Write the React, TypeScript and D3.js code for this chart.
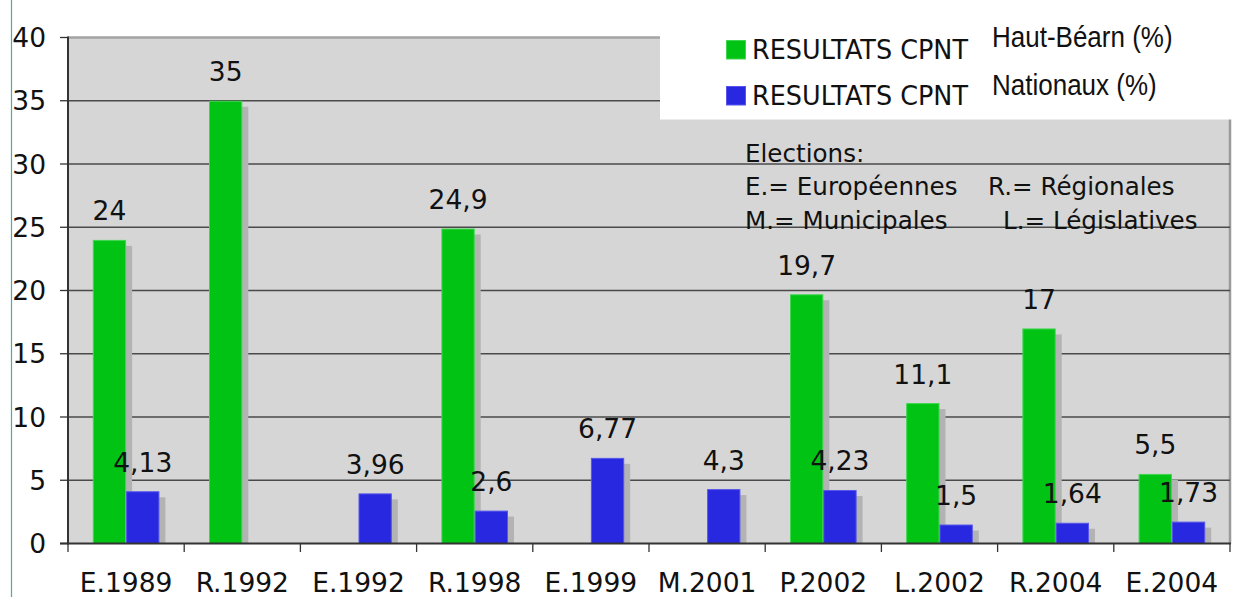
import { useEffect, useRef } from 'react';
import * as d3 from 'd3';

const categories = ['E.1989', 'R.1992', 'E.1992', 'R.1998', 'E.1999', 'M.2001', 'P.2002', 'L.2002', 'R.2004', 'E.2004'];
const hautBearn: (number | null)[] = [24, 35, null, 24.9, null, null, 19.7, 11.1, 17, 5.5];
const nationaux: (number | null)[] = [4.13, null, 3.96, 2.6, 6.77, 4.3, 4.23, 1.5, 1.64, 1.73];
const yTicks = [0, 5, 10, 15, 20, 25, 30, 35, 40];
const electionNotes = [
  ['Elections:', ''],
  ['E.= Européennes', 'R.= Régionales'],
  ['M.= Municipales', 'L.= Législatives'],
];

const GREEN = '#00c313';
const BLUE = '#2828e0';
const SANS = '"DejaVu Sans", Verdana, sans-serif';
const ARIAL = '"Liberation Sans", Arial, sans-serif';

export default function App() {
  const svgRef = useRef<SVGSVGElement>(null);

  useEffect(() => {
    if (!svgRef.current) return;
    const svg = d3.select(svgRef.current);
    svg.selectAll('*').remove();

    const W = 1258;
    const H = 597;
    const left = 68, right = 1230, top = 37.5, bottom = 543.5;

    svg.attr('width', W).attr('height', H).attr('viewBox', `0 0 ${W} ${H}`);

    svg.append('rect').attr('width', W).attr('height', H).attr('fill', '#fff');

    // thin teal edge line
    svg.append('line')
      .attr('x1', 11.5).attr('x2', 11.5).attr('y1', 0).attr('y2', H)
      .attr('stroke', '#3fb49a').attr('stroke-width', 1.2);

    const x = d3.scaleBand<string>().domain(categories).range([left, right]).padding(0);
    const y = d3.scaleLinear().domain([0, 40]).range([bottom, top]);
    const barW = 33.3;

    // plot background
    svg.append('rect')
      .attr('x', left).attr('y', top)
      .attr('width', right - left).attr('height', bottom - top)
      .attr('fill', '#d6d6d6');

    // top / right frame
    svg.append('line')
      .attr('x1', left).attr('x2', right + 1).attr('y1', top).attr('y2', top)
      .attr('stroke', '#a3a3a3').attr('stroke-width', 2.5);
    svg.append('line')
      .attr('x1', right).attr('x2', right).attr('y1', top).attr('y2', bottom)
      .attr('stroke', '#9a9a9a').attr('stroke-width', 2.5);

    // gridlines
    svg.append('g')
      .selectAll('line')
      .data(yTicks.filter(t => t > 0 && t < 40))
      .join('line')
      .attr('x1', left).attr('x2', right)
      .attr('y1', d => y(d)).attr('y2', d => y(d))
      .attr('stroke', '#4a4a4a').attr('stroke-width', 1.3);

    const defs = svg.append('defs');
    defs.append('clipPath').attr('id', 'plot-clip')
      .append('rect')
      .attr('x', left).attr('y', 0)
      .attr('width', right - left).attr('height', bottom);

    const series = [
      { values: hautBearn, color: GREEN, stroke: '#3fd650', offset: -barW },
      { values: nationaux, color: BLUE, stroke: '#5656ec', offset: 0 },
    ];

    const barsG = svg.append('g').attr('clip-path', 'url(#plot-clip)');

    // shadows
    series.forEach(s => {
      categories.forEach((c, i) => {
        const v = s.values[i];
        if (v == null) return;
        const cx = (x(c) ?? 0) + x.bandwidth() / 2 + s.offset;
        barsG.append('rect')
          .attr('x', cx + 6)
          .attr('y', y(v) + 6)
          .attr('width', barW)
          .attr('height', bottom - y(v))
          .attr('fill', '#b3b3b3');
      });
    });

    // bars
    series.forEach(s => {
      categories.forEach((c, i) => {
        const v = s.values[i];
        if (v == null) return;
        const cx = (x(c) ?? 0) + x.bandwidth() / 2 + s.offset;
        barsG.append('rect')
          .attr('x', cx + 0.5)
          .attr('y', y(v) + 0.5)
          .attr('width', barW - 1)
          .attr('height', bottom - y(v) - 0.5)
          .attr('fill', s.color)
          .attr('stroke', s.stroke)
          .attr('stroke-width', 1);
      });
    });

    // axes
    svg.append('line')
      .attr('x1', left).attr('x2', left).attr('y1', top - 1).attr('y2', bottom + 1)
      .attr('stroke', '#333').attr('stroke-width', 2);
    svg.append('line')
      .attr('x1', 60).attr('x2', right + 1).attr('y1', bottom).attr('y2', bottom)
      .attr('stroke', '#333').attr('stroke-width', 2);

    // y ticks & labels
    const yAxis = svg.append('g');
    yAxis.selectAll('line')
      .data(yTicks)
      .join('line')
      .attr('x1', 60).attr('x2', left)
      .attr('y1', d => y(d)).attr('y2', d => y(d))
      .attr('stroke', '#333').attr('stroke-width', 1.3);
    yAxis.selectAll('text')
      .data(yTicks)
      .join('text')
      .attr('x', 46)
      .attr('y', d => y(d))
      .attr('dy', '0.36em')
      .attr('text-anchor', 'end')
      .attr('font-family', SANS)
      .attr('font-size', 26.5)
      .attr('fill', '#111')
      .text(d => d);

    // x ticks at band boundaries
    const boundaries = categories.map(c => x(c) ?? 0).concat([right]);
    svg.append('g')
      .selectAll('line')
      .data(boundaries)
      .join('line')
      .attr('x1', d => d).attr('x2', d => d)
      .attr('y1', bottom).attr('y2', bottom + 8.5)
      .attr('stroke', '#333').attr('stroke-width', 1.3);

    svg.append('g')
      .selectAll('text')
      .data(categories)
      .join('text')
      .attr('x', d => (x(d) ?? 0) + x.bandwidth() / 2)
      .attr('y', 591.5)
      .attr('text-anchor', 'middle')
      .attr('font-family', SANS)
      .attr('font-size', 26.5)
      .attr('fill', '#111')
      .text(d => d);

    // value labels
    const fmt = (v: number) => String(v).replace('.', ',');
    series.forEach(s => {
      categories.forEach((c, i) => {
        const v = s.values[i];
        if (v == null) return;
        const cx = (x(c) ?? 0) + x.bandwidth() / 2 + s.offset + barW / 2;
        svg.append('text')
          .attr('x', cx)
          .attr('y', y(v) - 19.5)
          .attr('text-anchor', 'middle')
          .attr('font-family', SANS)
          .attr('font-size', 26.5)
          .attr('fill', '#111')
          .text(fmt(v));
      });
    });

    // election notes
    const notes = svg.append('g').attr('font-family', SANS).attr('font-size', 24.6).attr('fill', '#111');
    const noteY = [162, 195, 229];
    const noteX2 = [0, 988, 1003];
    electionNotes.forEach((row, i) => {
      notes.append('text').attr('x', 745).attr('y', noteY[i]).text(row[0]);
      if (row[1]) notes.append('text').attr('x', noteX2[i]).attr('y', noteY[i]).text(row[1]);
    });

    // legend box
    svg.append('rect')
      .attr('x', 660).attr('y', 0)
      .attr('width', W - 660).attr('height', 119.5)
      .attr('fill', '#fff');

    const legendItems = [
      { color: GREEN, stroke: '#3fd650', label: 'Haut-Béarn (%)', sqY: 40, textY: 59, subY: 47 },
      { color: BLUE, stroke: '#5656ec', label: 'Nationaux (%)', sqY: 86, textY: 105, subY: 95 },
    ];
    legendItems.forEach(it => {
      svg.append('rect')
        .attr('x', 726.5).attr('y', it.sqY + 0.5)
        .attr('width', 19).attr('height', 18.5)
        .attr('fill', it.color).attr('stroke', it.stroke);
      svg.append('text')
        .attr('transform', `translate(752,${it.textY}) scale(1,1.05)`)
        .attr('font-family', SANS)
        .attr('font-size', 25)
        .attr('textLength', 216)
        .attr('lengthAdjust', 'spacingAndGlyphs')
        .attr('fill', '#111')
        .text('RESULTATS CPNT');
      svg.append('text')
        .attr('transform', `translate(992,${it.subY}) scale(1,1.12)`)
        .attr('font-family', ARIAL)
        .attr('font-size', 26)
        .attr('fill', '#111')
        .text(it.label);
    });
  }, []);

  return <svg ref={svgRef} style={{ position: 'absolute', left: 0, top: 0, display: 'block' }} />;
}
